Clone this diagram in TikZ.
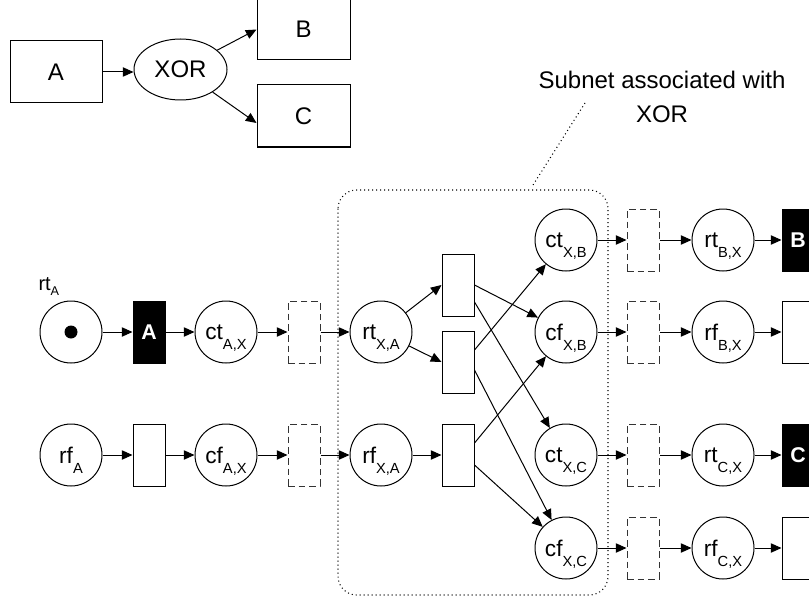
\documentclass[tikz,border=0pt]{standalone}
\usepackage{fontspec}
\setmainfont{Liberation Sans}
\usetikzlibrary{arrows.meta,shapes.geometric}
\newcommand\sbx[1]{\raisebox{-8pt}[0pt][0pt]{\fontsize{11pt}{11pt}\selectfont #1}}
\begin{document}
\begin{tikzpicture}[x=0.75pt,y=-0.75pt, line width=0.75pt,
 every node/.style={font=\fontsize{17pt}{20pt}\selectfont},
 box/.style={draw, rectangle, minimum width=69pt, minimum height=46.5pt, inner sep=0pt, font=\fontsize{18pt}{22pt}\selectfont},
 place/.style={draw, circle, minimum size=46.5pt, inner sep=0pt},
 trans/.style={draw, rectangle, minimum width=24pt, minimum height=46.5pt, inner sep=0pt},
 btrans/.style={trans, fill=black, text=white, font=\fontsize{16pt}{16pt}\selectfont\bfseries},
 dtrans/.style={trans, draw=black!80, dash pattern=on 5pt off 3pt},
 arr/.style={-{Triangle[length=8pt,width=7pt]}},
 dots/.style={line width=0.8pt, dash pattern=on 0.75pt off 2.25pt},
]
\useasboundingbox (0,0) rectangle (809,606);

% subnet box
\draw[dots, rounded corners=14pt] (338,190) rectangle (608,595);

% top part
\node[box] (A) at (56,72) {A};
\node[draw, ellipse, minimum width=69.75pt, minimum height=45.75pt, inner sep=0pt, font=\fontsize{18pt}{22pt}\selectfont] (X) at (180.5,69.5) {XOR};
\node[box, minimum width=69.75pt, minimum height=45.75pt] (B) at (303.5,29.5) {B};
\node[box, minimum width=69.75pt] (C) at (303.5,116) {C};
\draw[arr] (A.east) -- (A.east -| X.west);
\draw[arr] (X) -- (B.west);
\draw[arr] (X) -- ([yshift=-5.25pt]C.west);

% label
\node[align=center, font=\fontsize{18pt}{25pt}\selectfont] (lbl) at (662,97) {Subnet associated with\\XOR};
\coordinate (ld1) at (585,103);
\coordinate (ld2) at (533,185);
\draw[dots] (ld1) -- (ld2);

% bottom part
\node[place] (rtA) at (71,332) {};
\node[circle, fill, minimum size=9.75pt, inner sep=0pt] (tok) at (71,332) {};
\node[anchor=base west, inner sep=0pt, font=\fontsize{15pt}{15pt}\selectfont] (lrtA) at (38,290) {rt\raisebox{-4pt}{\fontsize{9.5pt}{9.5pt}\selectfont A}};
\node[btrans] (tA) at (149,332) {A};
\node[place] (ctAX) at (226,332) {ct\sbx{A,X}};
\node[dtrans] (d1) at (304,332) {};
\node[place] (rtXA) at (381,332) {rt\sbx{X,A}};
\node[trans] (t1) at (458,285) {};
\node[trans] (t2) at (458,362) {};
\node[place] (ctXB) at (566,240) {ct\sbx{X,B}};
\node[place] (cfXB) at (566,332) {cf\sbx{X,B}};

\node[place] (rfA) at (71,455) {rf\sbx{A}};
\node[trans] (tA2) at (149,455) {};
\node[place] (cfAX) at (226,455) {cf\sbx{A,X}};
\node[dtrans] (d2) at (304,455) {};
\node[place] (rfXA) at (381,455) {rf\sbx{X,A}};
\node[trans] (t3) at (458,455) {};
\node[place] (ctXC) at (566,455) {ct\sbx{X,C}};
\node[place] (cfXC) at (566,548) {cf\sbx{X,C}};

\node[dtrans] (e1) at (643,240) {};
\node[dtrans] (e2) at (643,332) {};
\node[dtrans] (e3) at (643,455) {};
\node[dtrans] (e4) at (643,548) {};
\node[place] (rtBX) at (723,240) {rt\sbx{B,X}};
\node[place] (rfBX) at (723,332) {rf\sbx{B,X}};
\node[place] (rtCX) at (723,455) {rt\sbx{C,X}};
\node[place] (rfCX) at (723,548) {rf\sbx{C,X}};
\node[btrans] (tB) at (798,240) {B};
\node[trans] (tB2) at (798,332) {};
\node[btrans] (tC) at (798,455) {C};
\node[trans] (tC2) at (798,548) {};

% arcs
\draw[arr] (rtA) -- (tA);
\draw[arr] (tA) -- (ctAX);
\draw[arr] (ctAX) -- (d1);
\draw[arr] (d1) -- (rtXA);
\draw[arr] (rtXA) -- (t1.west);
\draw[arr] (rtXA) -- (t2.west);
\draw[arr] (rfA) -- (tA2);
\draw[arr] (tA2) -- (cfAX);
\draw[arr] (cfAX) -- (d2);
\draw[arr] (d2) -- (rfXA);
\draw[arr] (rfXA) -- (t3);
\draw[arr] (t1.east) -- (cfXB);
\draw[arr] ([yshift=-12.75pt]t1.east) -- (ctXC);
\draw[arr] ([yshift=9pt]t2.east) -- (ctXB);
\draw[arr] ([yshift=-6pt]t2.east) -- (cfXC);
\draw[arr] ([yshift=9pt]t3.east) -- (cfXB);
\draw[arr] ([yshift=-7.5pt]t3.east) -- (cfXC);

\draw[arr] (ctXB) -- (e1);
\draw[arr] (e1) -- (rtBX);
\draw[arr] (rtBX) -- (tB);
\draw[arr] (cfXB) -- (e2);
\draw[arr] (e2) -- (rfBX);
\draw[arr] (rfBX) -- (tB2);
\draw[arr] (ctXC) -- (e3);
\draw[arr] (e3) -- (rtCX);
\draw[arr] (rtCX) -- (tC);
\draw[arr] (cfXC) -- (e4);
\draw[arr] (e4) -- (rfCX);
\draw[arr] (rfCX) -- (tC2);
\end{tikzpicture}
\end{document}
